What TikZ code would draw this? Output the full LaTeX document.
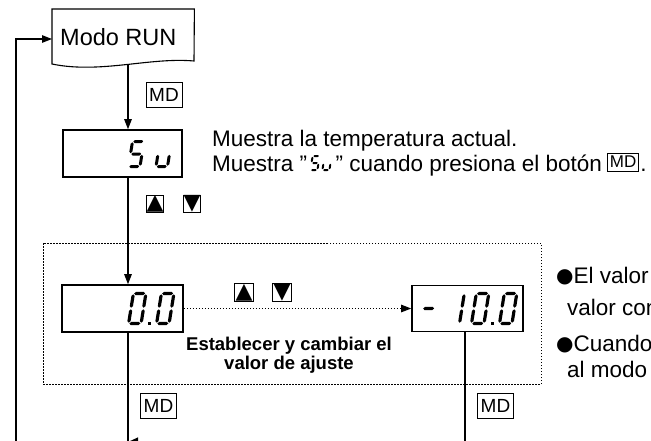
\documentclass[tikz,border=0pt]{standalone}
\usepackage{fontspec}
\setmainfont{Liberation Sans}
\newfontfamily\symfont{DejaVu Sans}
\usetikzlibrary{arrows.meta,calc}

\newcommand{\fs}[1]{\fontsize{#1}{#1}\selectfont}
\newcommand{\hseg}[3]{\fill ({#1},{#3}) -- ({#1+\st/2},{#3-\st/2}) -- ({#2-\st/2},{#3-\st/2}) -- ({#2},{#3}) -- ({#2-\st/2},{#3+\st/2}) -- ({#1+\st/2},{#3+\st/2}) -- cycle;}
\newcommand{\vseg}[3]{\fill ({#1},{#2}) -- ({#1+\st/2},{#2+\st/2}) -- ({#1+\st/2},{#3-\st/2}) -- ({#1},{#3}) -- ({#1-\st/2},{#3-\st/2}) -- ({#1-\st/2},{#2+\st/2}) -- cycle;}
\newcommand{\sevseg}[5]{%
 \begin{scope}[shift={(#1)}, xslant=0.16]
  \def\sw{#2}\def\sh{#3}\def\st{#4}\def\sg{0.8}%
  \foreach \s in {#5}{%
   \if\s a\hseg{\sg}{\sw-\sg}{-\sh}\fi
   \if\s b\vseg{\sw}{-\sh+\sg}{-\sh/2-\sg}\fi
   \if\s c\vseg{\sw}{-\sh/2+\sg}{-\sg}\fi
   \if\s d\hseg{\sg}{\sw-\sg}{0}\fi
   \if\s e\vseg{0}{-\sh/2+\sg}{-\sg}\fi
   \if\s f\vseg{0}{-\sh+\sg}{-\sh/2-\sg}\fi
   \if\s g\hseg{\sg}{\sw-\sg}{-\sh/2}\fi
  }%
 \end{scope}}
\newcommand{\keyglyph}[1]{\makebox[0pt][c]{#1}}

\begin{document}
\begin{tikzpicture}[x=1pt,y=-1pt,
  arr/.style={-{Triangle[length=10pt,width=7.5pt]}, line width=1.1pt},
  conn/.style={line width=1.1pt},
  disp/.style={draw, line width=1.6pt, inner sep=0pt},
  mdbox/.style={draw, line width=0.9pt, inner sep=0pt, minimum width=36pt, minimum height=25pt, font=\fs{19}},
  btn/.style={draw, line width=0.9pt, inner sep=0pt, minimum width=17pt, minimum height=17pt, font=\symfont\fs{22}},
  body/.style={inner sep=0pt, font=\fs{22.5}},
  bold/.style={inner sep=0pt, font=\bfseries\fs{18.5}},
  dots/.style={line width=1pt, dash pattern=on 1.5pt off 1.5pt},
]
\useasboundingbox (0,0) rectangle (651,440);
\clip (0,0) rectangle (651,440);

% Modo RUN (document shape)
\node[minimum width=142pt, minimum height=55pt, inner sep=0pt, anchor=north west] (run) at (52,9) {};
\draw[line width=1.1pt] (run.north west) -- (run.north east) -- (194,61) .. controls (150,57) and (100,74) .. (52,64) -- cycle;
\node[inner sep=0pt, font=\fs{23.5}, anchor=base west] (runlabel) at (60,45) {Modo RUN};
\coordinate (runout) at (128,65);
\coordinate (runin) at (52,39);

% displays
\node[disp, minimum width=119pt, minimum height=47pt] (sv) at (122.5,153.5) {};
\node[disp, minimum width=121pt, minimum height=47pt] (zero) at (122.5,308.5) {};
\node[disp, minimum width=111pt, minimum height=46pt] (neg) at (467.5,308.5) {};

% seven segment digits
\sevseg{128.5,166.5}{11.5}{25}{3}{a,f,g,c,d}
\sevseg{156,166.5}{11.5}{25}{3}{c,d,e}

\sevseg{128.6,323.5}{12.5}{30}{3.2}{a,b,c,d,e,f}
\fill (148,322) rectangle (151.2,325.2);
\sevseg{156.6,323.5}{12.5}{30}{3.2}{a,b,c,d,e,f}

\sevseg{420,323.5}{12.5}{30}{3.2}{g}
\sevseg{447,323.5}{12.5}{30}{3.2}{b,c}
\sevseg{471.5,323.5}{12.5}{30}{3.2}{a,b,c,d,e,f}
\fill (491,322) rectangle (494.2,325.2);
\sevseg{499.5,323.5}{12.5}{30}{3.2}{a,b,c,d,e,f}

% dotted frame
\draw[dots] (43,243) rectangle (541,384);

% connectors
\coordinate (loopbot) at (16,450);
\coordinate (zerodown) at (128,450);
\coordinate (negx) at (465,450);
\coordinate (ret) at (465,442);
\draw[arr] (runout) -- (runout |- sv.north);
\draw[arr] (sv.south -| runout) -- (zero.north -| runout);
\draw[arr] (loopbot) -- (loopbot |- runin) -- (runin);
\draw[arr, dots] (zero.east) -- (zero.east -| neg.west);
\draw[conn] (zero.south -| runout) -- (zerodown);
\draw[conn] (neg.south -| negx) -- (negx);
\draw[-{Triangle[length=10pt,width=9pt]}, conn] (ret) -- (ret -| runout);

% MD keys
\node[mdbox] (md1) at (164,94.5) {MD};
\node[mdbox] (md2) at (158.5,405.5) {MD};
\node[mdbox] (md3) at (495.5,406) {MD};

% up/down keys
\node[btn] (up1) at (155,204) {\keyglyph{▲}};
\node[btn] (dn1) at (192,204) {\keyglyph{▼}};
\node[btn, minimum width=19pt, minimum height=18pt] (up2) at (244,292.5) {\keyglyph{▲}};
\node[btn, minimum width=19pt, minimum height=18pt] (dn2) at (282,292.5) {\keyglyph{▼}};

% texts
\node[body, anchor=base west] (t1) at (212,146) {Muestra la temperatura actual.};
\node[body, anchor=base west] (t2a) at (212,171) {Muestra "};
\sevseg{$(t2a.base east)+(3,-1)$}{7}{14}{2}{a,f,g,c,d}
\sevseg{$(t2a.base east)+(15,-1)$}{7}{14}{2}{c,d,e}
\node[body, anchor=base west] (t2b) at ($(t2a.base east)+(28,0)$) {" cuando presiona el botón};
\node[draw, line width=0.8pt, inner sep=0pt, minimum width=31pt, minimum height=18pt, font=\fs{17}, anchor=south west] (md4) at ($(t2b.base east)+(5,0.5)$) {MD};
\node[body, anchor=base west] (t2c) at ($(md4.south east)+(1,-0.5)$) {.};

\node[bold, anchor=base] (est1) at (289,350) {Establecer y cambiar el};
\node[bold, anchor=base] (est2) at (289,369) {valor de ajuste};

\node[body, anchor=base west] (r1) at (556,283) {\raisebox{0.5pt}{\symfont\fs{20}●}El valor};
\node[body, anchor=base west] (r2) at (567,315) {valor con};
\node[body, anchor=base west] (r3) at (556,351) {\raisebox{0.5pt}{\symfont\fs{20}●}Cuando};
\node[body, anchor=base west] (r4) at (567,377) {al modo};
\end{tikzpicture}
\end{document}
